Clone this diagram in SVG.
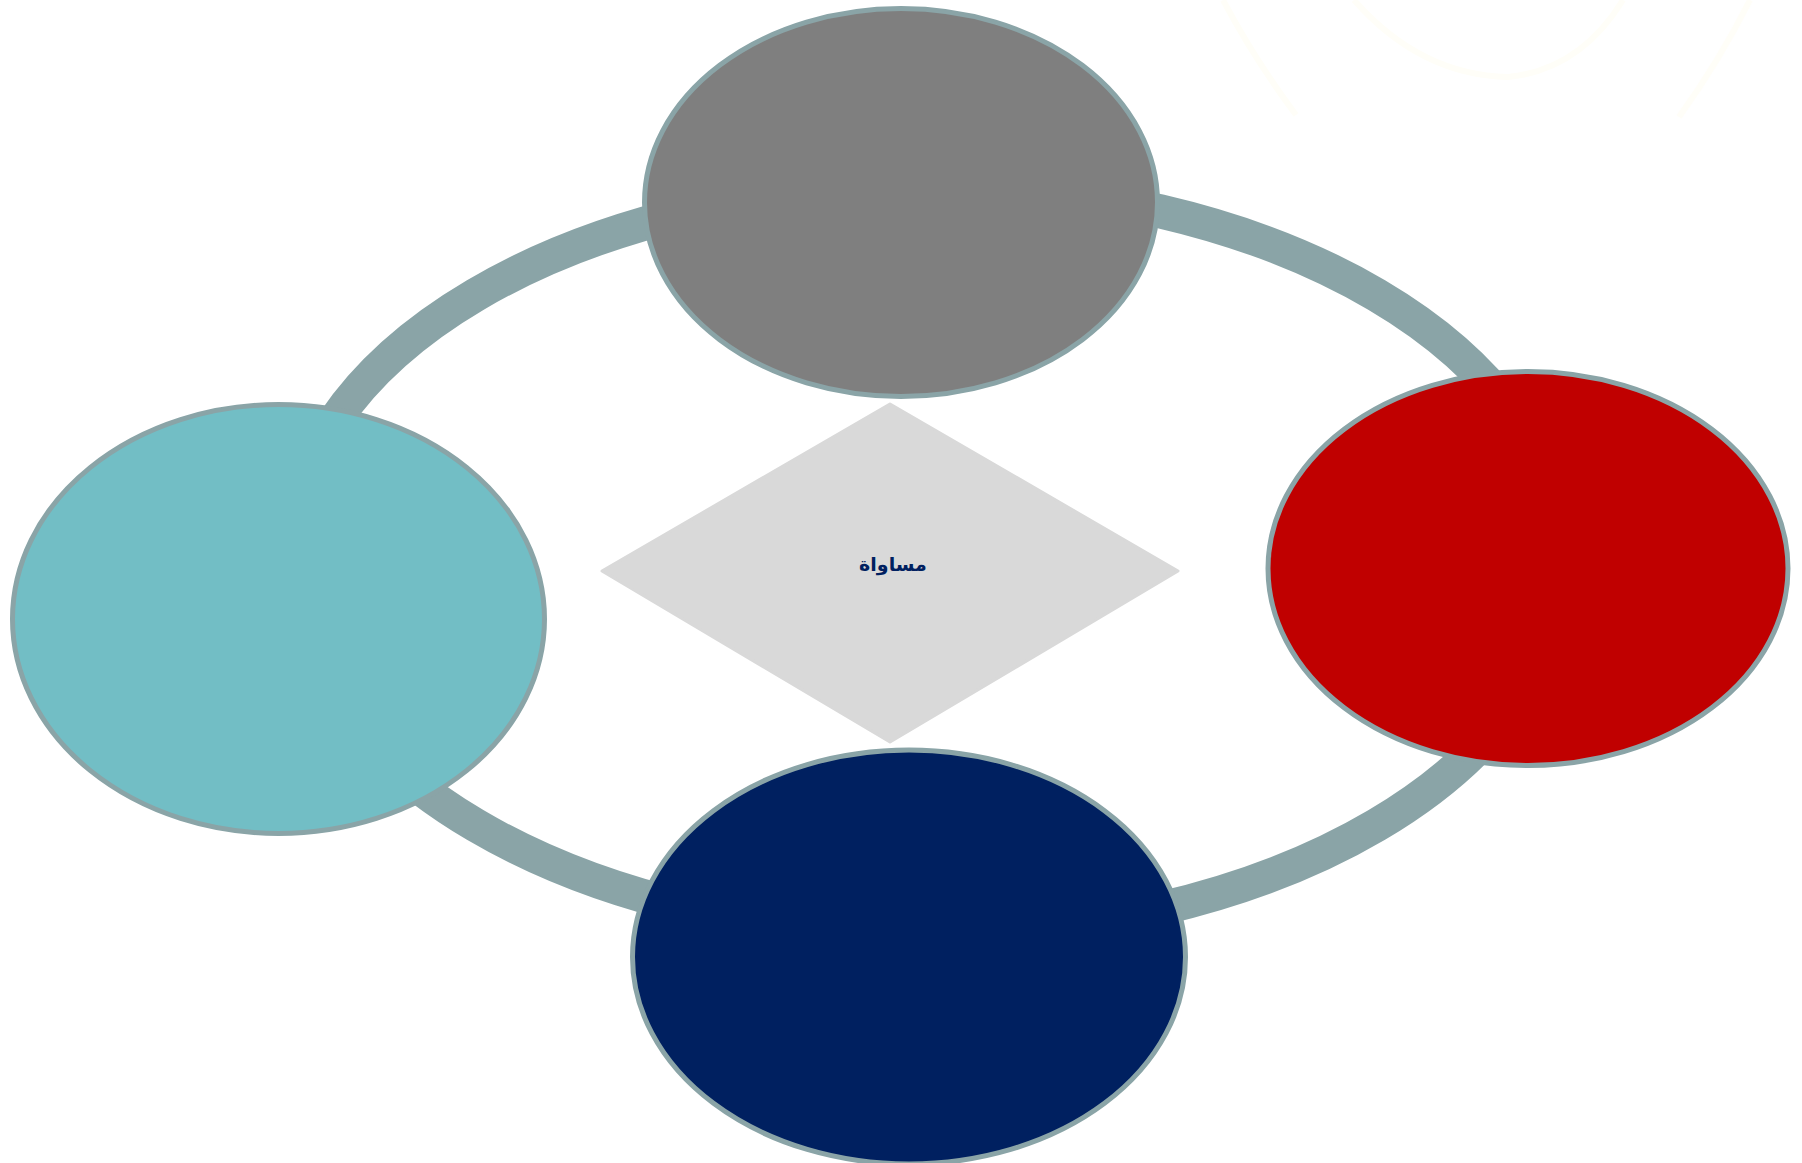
<svg xmlns="http://www.w3.org/2000/svg" width="1802" height="1163" viewBox="0 0 1802 1163">
  <style>
    .node { stroke: #8AA4A7; stroke-width: 5; }
    .ring { fill: none; stroke: #8AA4A7; stroke-width: 34; }
    .faint { fill: none; stroke: #FFFEF8; stroke-width: 6; }
    .label { font-family: "DejaVu Sans", "Noto Sans", sans-serif; font-weight: bold; font-size: 19px; fill: #002060; }
  </style>
  <rect width="1802" height="1163" fill="#FFFFFF"/>
  <g id="faint-arcs">
    <path class="faint" d="M1223,0 Q1255,60 1296,115"/>
    <path class="faint" d="M1354,0 Q1420,75 1508,77 Q1580,70 1623,0"/>
    <path class="faint" d="M1750,0 Q1720,60 1679,117"/>
  </g>
  <g id="connectors">
    <ellipse class="ring" cx="926" cy="560" rx="637" ry="375"/>
  </g>
  <g id="node-top">
    <ellipse class="node" cx="901" cy="202.5" rx="256.5" ry="194" fill="#7F7F7F"/>
  </g>
  <g id="node-left">
    <ellipse class="node" cx="278.5" cy="619" rx="266" ry="214.5" fill="#72BEC5"/>
  </g>
  <g id="node-right">
    <ellipse class="node" cx="1528" cy="568.5" rx="260" ry="197" fill="#C00000"/>
  </g>
  <g id="node-bottom">
    <ellipse class="node" cx="909" cy="957" rx="276.5" ry="207" fill="#002060"/>
  </g>
  <g id="node-center">
    <polygon points="890,404 1178,571 890,742 602,571" fill="#D9D9D9" stroke="#D9D9D9" stroke-width="3" stroke-linejoin="round"/>
    <text class="label" x="893" y="571" text-anchor="middle" direction="rtl">مساواة</text>
  </g>
</svg>
